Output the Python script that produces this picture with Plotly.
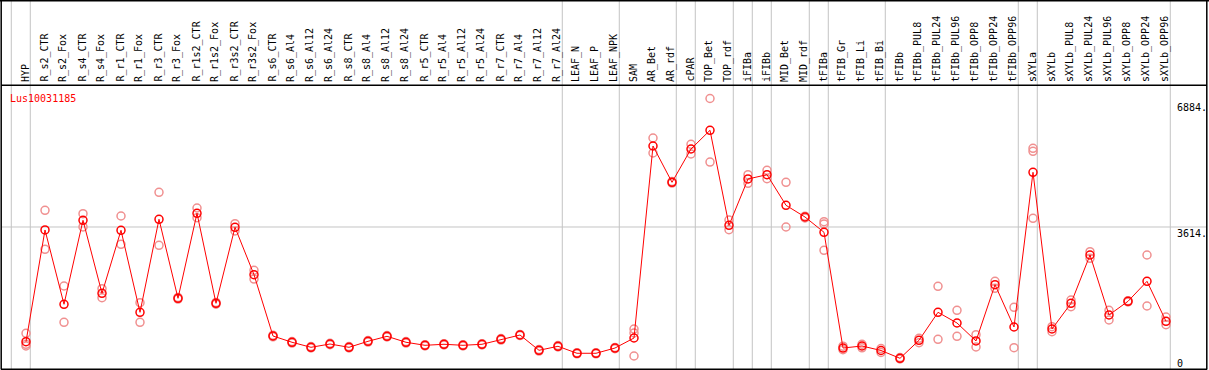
import plotly.graph_objects as go

categories = ["HYP", "R_s2_CTR", "R_s2_Fox", "R_s4_CTR", "R_s4_Fox", "R_r1_CTR", "R_r1_Fox",
              "R_r3_CTR", "R_r3_Fox", "R_r1s2_CTR", "R_r1s2_Fox", "R_r3s2_CTR", "R_r3s2_Fox",
              "R_s6_CTR", "R_s6_Al4", "R_s6_Al12", "R_s6_Al24", "R_s8_CTR", "R_s8_Al4", "R_s8_Al12",
              "R_s8_Al24", "R_r5_CTR", "R_r5_Al4", "R_r5_Al12", "R_r5_Al24", "R_r7_CTR", "R_r7_Al4",
              "R_r7_Al12", "R_r7_Al24", "LEAF_N", "LEAF_P", "LEAF_NPK", "SAM", "AR_Bet", "AR_rdf",
              "cPAR", "TOP_Bet", "TOP_rdf", "iFIBa", "iFIBb", "MID_Bet", "MID_rdf", "tFIBa",
              "tFIB_Gr", "tFIB_Li", "tFIB_Bi", "tFIBb", "tFIBb_PUL8", "tFIBb_PUL24", "tFIBb_PUL96",
              "tFIBb_OPP8", "tFIBb_OPP24", "tFIBb_OPP96", "sXYLa", "sXYLb", "sXYLb_PUL8",
              "sXYLb_PUL24", "sXYLb_PUL96", "sXYLb_OPP8", "sXYLb_OPP24", "sXYLb_OPP96"]

mean_values = [695, 3538, 1647, 3784, 1927, 3530, 1443, 3810, 1799, 3963, 1672, 3606, 2400,
               840, 680, 552, 636, 552, 705, 832, 680, 603, 629, 603, 629, 756, 865, 476, 578,
               400, 400, 534, 789,
               5675, 4751, 5599, 6075, 3657, 4836, 4945, 4166, 3868, 3479,
               534, 585, 471, 272,
               730, 1443, 1171, 713, 2145, 1069,
               5006, 1018, 1672, 2901, 1374, 1723, 2232, 1214]

rep1_values = [909, 4039, 2112, 3952, 2044, 3894, 1687, 4497, 1820, 4097, 1695, 3698, 2512,
               860, 700, 570, 655, 570, 725, 850, 700, 620, 645, 620, 645, 775, 880, 495, 595,
               415, 415, 550, 1018,
               5879, 4770, 5719, 6884, 3792, 4945, 5057, 4751, 3890, 3749,
               580, 630, 520, 290,
               781, 2105, 1494, 873, 2232, 1570,
               5617, 1077, 1756, 2985, 1494, 1740, 2901, 1323]

rep2_values = [629, 3046, 1189, 3616, 1815, 3174, 1189, 3148, 1780, 3851, 1650, 3512, 2290,
               820, 660, 535, 617, 535, 685, 815, 660, 585, 612, 585, 612, 737, 850, 457, 560,
               385, 385, 518, 916,
               5497, 4732, 5472, 5266, 3545, 4726, 4843, 3614, 3846, 3690,
               490, 540, 420, 255,
               669, 756, 832, 560, 2054, 542,
               5540, 949, 1586, 2817, 1247, 1706, 1603, 1127]

rep3_values = {"HYP": 585, "SAM": 331, "tFIBa": 3021, "sXYLa": 3835}

group_ends = [-1, 0, 28, 31, 34, 35, 37, 38, 39, 41, 42, 45, 52, 53, 60]
gene_name = "Lus10031185"
y_max_label = 6884
y_mid_label = 3614

W, H = 1209, 370
FONT = "DejaVu Sans Mono"
xs = list(range(len(categories)))

# pixel geometry helpers
x0_px, dx_px = 26.0, 19.0
y0_px, ymax_px = 369.0, 98.5
k = y_max_label / (y0_px - ymax_px)
xr = [(0 - x0_px) / dx_px, (W - x0_px) / dx_px]
yr = [-(H - y0_px) * k, y0_px * k]


def py(p):
    return 1 - p / H


def px(p):
    return p / W


fig = go.Figure()

pale_x, pale_y = [], []
for i, c in enumerate(categories):
    pale_x += [i, i]
    pale_y += [rep1_values[i], rep2_values[i]]
    if c in rep3_values:
        pale_x.append(i)
        pale_y.append(rep3_values[c])

fig.add_trace(go.Scatter(x=pale_x, y=pale_y, mode="markers",
                         marker=dict(symbol="circle-open", size=8, color="#F09090",
                                     line=dict(width=1.5, color="#F09090")),
                         showlegend=False, hoverinfo="skip"))
fig.add_trace(go.Scatter(x=xs, y=mean_values, mode="lines+markers",
                         line=dict(color="#FF0000", width=1),
                         marker=dict(symbol="circle-open", size=8, color="#FF0000",
                                     line=dict(width=1.5, color="#FF0000")),
                         showlegend=False))

shapes = []
for g in group_ends:
    shapes.append(dict(type="line", xref="x", yref="paper", x0=g + 0.226, x1=g + 0.226,
                       y0=0, y1=1, line=dict(color="#C4C4C4", width=1), layer="below"))
shapes.append(dict(type="line", xref="paper", yref="y", x0=px(1), x1=px(1206.5),
                   y0=y_mid_label, y1=y_mid_label, line=dict(color="#C4C4C4", width=1), layer="below"))
# borders
blk = dict(color="black", width=1.5)
shapes += [
    dict(type="line", xref="paper", yref="paper", x0=0, x1=1, y0=py(0.7), y1=py(0.7), line=blk),
    dict(type="line", xref="paper", yref="paper", x0=px(1.2), x1=px(1.2), y0=py(0), y1=py(369.5), line=blk),
    dict(type="line", xref="paper", yref="paper", x0=px(1206.8), x1=px(1206.8), y0=py(0), y1=py(369.5), line=blk),
    dict(type="line", xref="paper", yref="paper", x0=px(1), x1=px(1207), y0=py(369.2), y1=py(369.2), line=blk),
    dict(type="line", xref="paper", yref="paper", x0=px(1), x1=px(1207), y0=py(85.3), y1=py(85.3), line=blk),
]

annotations = []
for i, c in enumerate(categories):
    annotations.append(dict(x=i - 0.05, xref="x", y=py(84), yref="paper", text=c, textangle=-90,
                            showarrow=False, xanchor="center", yanchor="bottom",
                            font=dict(family=FONT, size=10, color="black")))
annotations.append(dict(x=px(8), y=py(91), xref="paper", yref="paper", text=gene_name,
                        showarrow=False, xanchor="left", yanchor="top",
                        font=dict(family=FONT, size=10, color="#FF0000")))
for txt, yc in [(f"{y_max_label}.", 107.5), (f"{y_mid_label}.", 233.0), ("0", 363.0)]:
    annotations.append(dict(x=px(1175), y=py(yc), xref="paper", yref="paper", text=txt,
                            showarrow=False, xanchor="left", yanchor="middle",
                            font=dict(family=FONT, size=10, color="black")))

fig.update_layout(width=W, height=H, autosize=False,
                  margin=dict(l=0, r=0, t=0, b=0, pad=0),
                  paper_bgcolor="white", plot_bgcolor="white",
                  xaxis=dict(range=xr, visible=False, showgrid=False, zeroline=False, fixedrange=True),
                  yaxis=dict(range=yr, visible=False, showgrid=False, zeroline=False, fixedrange=True),
                  shapes=shapes, annotations=annotations, showlegend=False)

fig.write_html("out.html", config={"staticPlot": True},
               post_script="document.body.style.margin='0';document.body.style.padding='0';"
                           "document.body.style.overflow='hidden';")
